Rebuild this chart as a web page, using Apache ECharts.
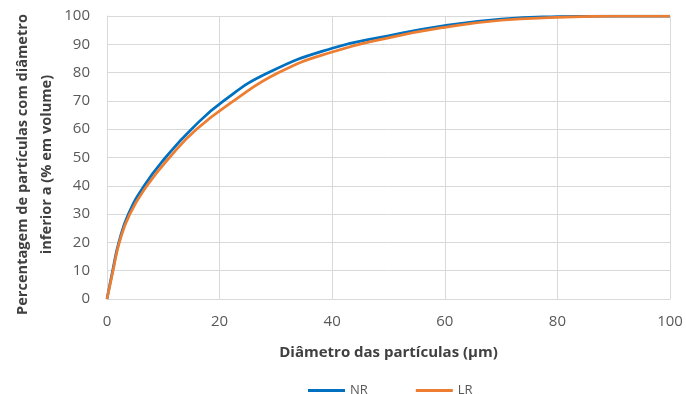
<!DOCTYPE html>
<html>
<head>
<meta charset="utf-8">
<script src="https://cdn.jsdelivr.net/npm/echarts@6/dist/echarts.min.js"></script>
<style>html,body{margin:0;padding:0;background:#fff}#c{width:686px;height:394px}</style>
</head>
<body>
<div id="c"></div>
<script>
// Diameter (µm) at which each reading was taken, and cumulative % below that diameter
const nrDiameters = [0, 1, 2.1, 3.8, 6.6, 10.4, 15, 20.7, 28.7, 40, 50, 60, 70, 80, 88, 100];
const nrValues    = [0, 10, 20, 30, 40, 50, 60, 70, 80, 88.6, 93, 96.6, 98.9, 99.8, 100, 100];
const lrDiameters = [0, 1.07, 2.2, 4.05, 7.1, 11.1, 15.9, 22.5, 30.5, 40, 50, 60, 70, 80, 90, 100];
const lrValues    = [0, 10, 20, 30, 40, 50, 60, 70, 80, 87.3, 92.3, 96, 98.5, 99.5, 100, 100];
const seriesNames = ['NR', 'LR'];
const xTitle = 'Diâmetro das partículas (µm)';
const yTitle = 'Percentagem de partículas com diâmetro\ninferior a (% em volume)';

const font = 'Open Sans';
const chart = echarts.init(document.getElementById('c'));
const pairs = (xs, ys) => xs.map((d, i) => [d, ys[i]]);
chart.setOption({
  animation: false,
  textStyle: { fontFamily: font },
  grid: { left: 107, right: 16, top: 16, bottom: 95, containLabel: false, outerBoundsMode: 'none' },
  legend: {
    top: 379, left: 303, itemGap: 48, itemWidth: 37, itemHeight: 3,
    icon: 'rect',
    textStyle: { color: '#595959', fontSize: 13, fontFamily: font },
    data: seriesNames
  },
  xAxis: {
    type: 'value', min: 0, max: 100, interval: 20,
    name: xTitle, nameLocation: 'middle', nameGap: 46,
    nameTextStyle: { fontWeight: 'bold', fontSize: 15, color: '#404040', fontFamily: font },
    axisLine: { show: true, lineStyle: { color: '#d9d9d9' } },
    axisTick: { show: false },
    axisLabel: { color: '#595959', fontSize: 15, margin: 15 },
    splitLine: { show: true, lineStyle: { color: '#d9d9d9' } }
  },
  yAxis: {
    type: 'value', min: 0, max: 100, interval: 10,
    name: yTitle, nameLocation: 'middle', nameGap: 48, nameRotate: 90, nameMoveOverlap: false,
    nameTextStyle: { fontWeight: 'bold', fontSize: 14.6, color: '#404040', lineHeight: 24, fontFamily: font, padding: [0, 14, 0, 0] },
    axisLine: { show: true, lineStyle: { color: '#d9d9d9' } },
    axisTick: { show: false },
    axisLabel: { color: '#595959', fontSize: 15, margin: 17 },
    splitLine: { show: true, lineStyle: { color: '#d9d9d9' } }
  },
  series: [
    { name: seriesNames[0], type: 'line', data: pairs(nrDiameters, nrValues), smooth: 0.5, showSymbol: false,
      lineStyle: { color: '#0070C0', width: 2.75 }, itemStyle: { color: '#0070C0' } },
    { name: seriesNames[1], type: 'line', data: pairs(lrDiameters, lrValues), smooth: 0.5, showSymbol: false,
      lineStyle: { color: '#ED7D31', width: 2.75 }, itemStyle: { color: '#ED7D31' } }
  ]
});
</script>
</body>
</html>
